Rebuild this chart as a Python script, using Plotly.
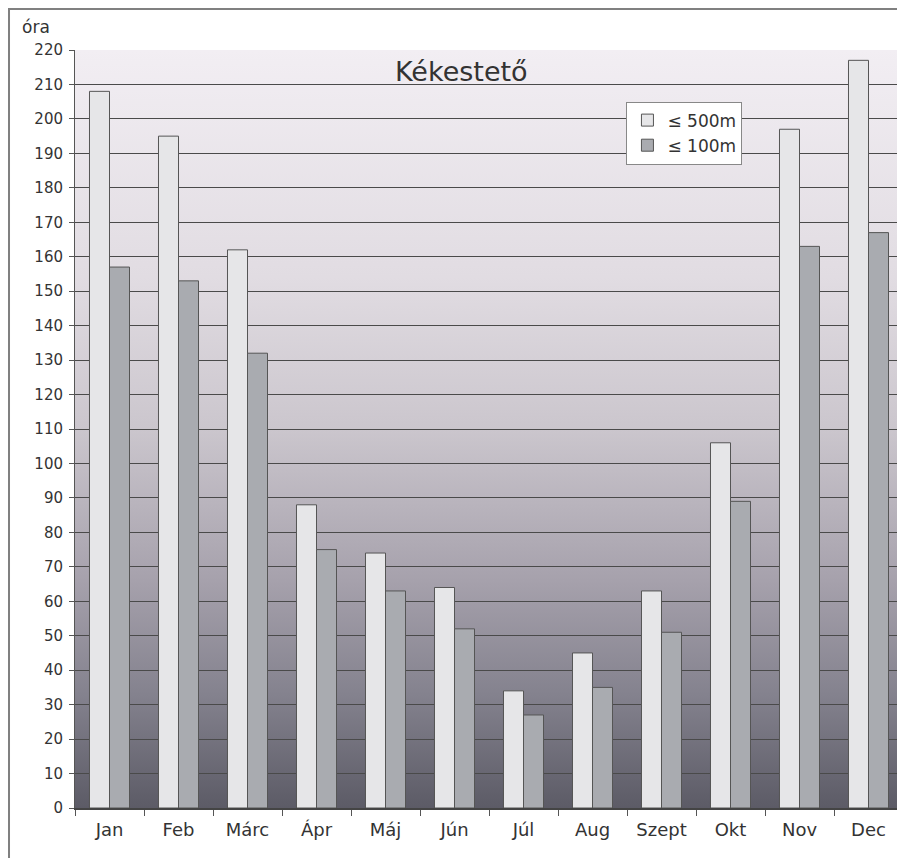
import base64
import plotly.graph_objects as go

months = ["Jan", "Feb", "Márc", "Ápr", "Máj", "Jún", "Júl", "Aug", "Szept", "Okt", "Nov", "Dec"]
le500 = [208, 195, 162, 88, 74, 64, 34, 45, 63, 106, 197, 217]
le100 = [157, 153, 132, 75, 63, 52, 27, 35, 51, 89, 163, 167]
series_names = ["≤ 500m", "≤ 100m"]
title_text = "Kékestető"
y_unit = "óra"

FONT = "DejaVu Sans"

svg = (
    '<svg xmlns="http://www.w3.org/2000/svg" width="100" height="400" preserveAspectRatio="none">'
    '<defs><linearGradient id="g" x1="0" y1="0" x2="0" y2="1">'
    '<stop offset="0" stop-color="#f2eef3"/>'
    '<stop offset="0.3" stop-color="#e1dce2"/>'
    '<stop offset="0.5" stop-color="#cbc6cd"/>'
    '<stop offset="0.7" stop-color="#a6a1ac"/>'
    '<stop offset="0.85" stop-color="#84828e"/>'
    '<stop offset="1" stop-color="#5c5b66"/>'
    '</linearGradient></defs>'
    '<rect width="100" height="400" fill="url(#g)"/></svg>'
)
svg_uri = "data:image/svg+xml;base64," + base64.b64encode(svg.encode()).decode()

fig = go.Figure()
fig.add_trace(go.Bar(x=months, y=le500, name=series_names[0],
                     marker=dict(color="#e6e6e8", line=dict(color="#555555", width=1))))
fig.add_trace(go.Bar(x=months, y=le100, name=series_names[1],
                     marker=dict(color="#a9abb0", line=dict(color="#555555", width=1))))

fig.update_layout(
    width=905, height=858,
    margin=dict(l=67, r=10, t=42, b=58),
    paper_bgcolor="white",
    plot_bgcolor="rgba(0,0,0,0)",
    barmode="group", bargap=0.42, bargroupgap=0,
    font=dict(family=FONT, color="#333333"),
    showlegend=True,
    legend=dict(x=0.666, y=0.932, xanchor="left", yanchor="top",
                bgcolor="white", bordercolor="#888888", borderwidth=1,
                font=dict(family=FONT, size=17, color="#333333"),
                itemwidth=30, tracegroupgap=2),
    images=[dict(source=svg_uri, xref="paper", yref="paper", x=0, y=1,
                 sizex=1, sizey=1, sizing="stretch", layer="below",
                 xanchor="left", yanchor="top")],
    shapes=[dict(type="rect", xref="paper", yref="paper",
                 x0=-0.0797, x1=1.05, y0=-0.2, y1=1.054,
                 line=dict(color="#808080", width=2), fillcolor="rgba(0,0,0,0)",
                 layer="below")],
    annotations=[
        dict(text=title_text, xref="paper", yref="paper", x=0.467, y=0.971,
             xanchor="center", yanchor="middle", showarrow=False,
             font=dict(family=FONT, size=27, color="#333333")),
        dict(text=y_unit, xref="paper", yref="paper", x=-0.066, y=1.031,
             xanchor="left", yanchor="middle", showarrow=False,
             font=dict(family=FONT, size=17, color="#333333")),
    ],
)
fig.update_xaxes(type="category", showline=True, linecolor="#444444", linewidth=2,
                 ticks="outside", tickson="boundaries", ticklen=6, tickcolor="#555555",
                 tickfont=dict(family=FONT, size=18, color="#333333"), showgrid=False,
                 ticklabelstandoff=4, range=[-0.5, 11.5])
fig.update_yaxes(range=[0, 220], dtick=10, showgrid=True, gridcolor="#4a4a4a", gridwidth=1,
                 showline=True, linecolor="#555555", linewidth=1,
                 ticks="outside", ticklen=5, tickcolor="#555555",
                 tickfont=dict(family=FONT, size=15, color="#333333"), zeroline=False,
                 ticklabelstandoff=3)

fig.write_html("out.html")
